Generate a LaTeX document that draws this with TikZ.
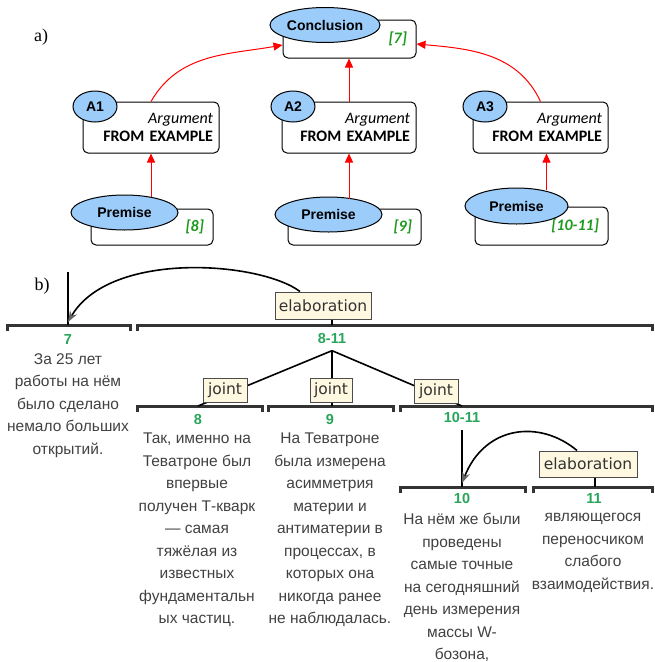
\documentclass[tikz,border=0pt]{standalone}
\usepackage{fontspec}
\setmainfont{Liberation Serif}
\newfontfamily\argfont{Carlito}
\newfontfamily\nodefont{Liberation Sans}
\newfontfamily\relfont{DejaVu Sans}
\usetikzlibrary{shapes,arrows.meta,calc,positioning}
\definecolor{claimblue}{RGB}{155,204,250}
\definecolor{refgreen}{RGB}{30,155,30}
\definecolor{spangreen}{RGB}{40,165,90}
\definecolor{relcream}{RGB}{255,248,225}
\definecolor{bodygray}{RGB}{65,65,65}
\tikzset{
  claim/.style={ellipse, draw=black, line width=1pt, fill=claimblue, inner sep=0pt,
                font=\nodefont\fontsize{14}{16}\selectfont\bfseries},
  argbox/.style={rectangle, rounded corners=5pt, draw=black, line width=1pt, fill=white,
                 inner xsep=6pt, align=right, font=\argfont\fontsize{16}{18.5}\selectfont},
  refbox/.style={argbox, inner xsep=9pt, text=refgreen,
                 font=\argfont\fontsize{16}{19}\selectfont\bfseries\itshape},
  support/.style={red, line width=1pt, -{Triangle[length=9pt,width=8pt]}},
  span/.style={line width=3pt, draw=black!80},
  rel/.style={line width=1.6pt, draw=black},
  relbox/.style={rectangle, draw=black!70, line width=1pt, fill=relcream, inner sep=2pt,
                 text=black!80, font=\relfont\fontsize{15.5}{18}\selectfont},
  spannum/.style={text=spangreen, font=\nodefont\fontsize{14.5}{16}\selectfont\bfseries},
  edu/.style={align=center, anchor=north, inner sep=0pt, text=bodygray,
              font=\nodefont\fontsize{15.5}{22.5}\selectfont},
  partlbl/.style={font=\fontsize{18}{20}\selectfont}
}

\begin{document}
\begin{tikzpicture}[x=1pt,y=1pt]
  \useasboundingbox (0,0) rectangle (655,-662);

  % a) argument diagram
  \node[partlbl] (parta) at (41,-37) {a)};

  % Conclusion on top.
  \node[refbox, minimum width=133pt, text width=115pt, minimum height=38pt] (concbox) at (349.5,-39) {[7]};
  \node[claim, minimum width=110pt, minimum height=35pt] (concl) at (325,-25) {Conclusion};

  % The three arguments.
  \node[argbox, minimum width=136pt, text width=124pt, minimum height=51pt] (a1box) at (151,-127.5)
    {\textit{Argument}\\\textbf{FROM EXAMPLE}};
  \node[claim, minimum width=44pt, minimum height=31pt] (a1) at (95,-106.5) {A1};
  \node[argbox, minimum width=134pt, text width=122pt, minimum height=51pt] (a2box) at (349,-127.5)
    {\textit{Argument}\\\textbf{FROM EXAMPLE}};
  \node[claim, minimum width=44pt, minimum height=31pt] (a2) at (293,-106.5) {A2};
  \node[argbox, minimum width=135pt, text width=123pt, minimum height=51pt] (a3box) at (540.5,-127.5)
    {\textit{Argument}\\\textbf{FROM EXAMPLE}};
  \node[claim, minimum width=44pt, minimum height=31pt] (a3) at (485,-106.5) {A3};

  % Premises.
  \node[refbox, minimum width=122pt, text width=104pt, minimum height=36pt] (p1box) at (152,-227) {[8]};
  \node[claim, minimum width=107pt, minimum height=35pt] (p1) at (124.5,-212.5) {Premise};
  \node[refbox, minimum width=133pt, text width=115pt, minimum height=36pt] (p2box) at (354.5,-227) {[9]};
  \node[claim, minimum width=107pt, minimum height=35pt] (p2) at (328.5,-214.5) {Premise};
  \node[refbox, minimum width=133pt, text width=115pt, minimum height=38pt] (p3box) at (541.5,-226) {[10-11]};
  \node[claim, minimum width=103pt, minimum height=36pt] (p3) at (516.5,-206) {Premise};

  % Support arrows.
  \draw[support] (a1box.north) to[out=60,in=190] ([yshift=-6pt]concbox.west);
  \draw[support] (a2box.north) -- (a2box.north |- concbox.south);
  \draw[support] (a3box.north) to[out=115,in=-5] ([yshift=-5pt]concbox.east);
  \coordinate (a3foot) at ([xshift=6pt]a3box.south);
  \draw[support, shorten <=-2pt] (a1box.south |- p1.north) -- (a1box.south);
  \draw[support, shorten <=-2pt] (a2box.south |- p2.north) -- (a2box.south);
  \draw[support, shorten <=-2pt] (a3foot |- p3.north) -- (a3foot);

  % b) discourse tree
  \node[partlbl] (partb) at (42,-286) {b)};

  % Span bars.
  \draw[span] (7,-331) |- (130,-325) -- (130,-331);
  \draw[span] (137,-331) |- (652,-325) -- (652,-331);
  \draw[span] (137,-412) |- (262,-406) -- (262,-412);
  \draw[span] (268,-412) |- (393,-406) -- (393,-412);
  \draw[span] (400,-412) |- (652,-406) -- (652,-412);
  \draw[span] (400,-493) |- (525,-487) -- (525,-493);
  \draw[span] (533,-493) |- (652,-487) -- (652,-493);

  \coordinate (s7) at (68,-325);
  \coordinate (s811) at (332,-325);
  \coordinate (s8) at (198,-406);
  \coordinate (s9) at (332,-406);
  \coordinate (s1011) at (462,-406);
  \coordinate (s10) at (462,-487);
  \coordinate (s11) at (595,-487);
  \coordinate (root7) at (68,-272);

  % Span numbers.
  \node[spannum] (n7) at (68,-340) {7};
  \node[spannum] (n811) at (332,-339) {8-11};
  \node[spannum] (n8) at (198,-420) {8};
  \node[spannum] (n9) at (330,-420) {9};
  \node[spannum] (n1011) at (462,-418) {10-11};
  \node[spannum] (n10) at (462,-499) {10};
  \node[spannum] (n11) at (594,-499) {11};

  % Elaboration 8-11 -> 7.
  \draw[rel] (root7) -- (s7);
  \node[relbox, minimum width=96pt, minimum height=27pt] (elab1) at (323,-305.5) {elaboration};
  \draw[rel] (elab1.south -| s811) -- (s811);
  \draw[rel, -{Stealth[length=11pt,width=8pt,color=black!60]}]
    ([xshift=-23pt]elab1.north) .. controls +(-40,30) and +(42,72) .. ([yshift=3pt]s7);

  % Joint over 8, 9, 10-11.
  \draw[rel] ([yshift=-3pt]n811.south) -- (s8);
  \draw[rel] ([yshift=-3pt]n811.south) -- (s9);
  \draw[rel] ([yshift=-3pt]n811.south) -- (s1011);
  \node[relbox, minimum width=44pt, minimum height=24pt] (joint1) at (225,-390) {joint};
  \node[relbox, minimum width=42pt, minimum height=24pt] (joint2) at (331,-390.5) {joint};
  \node[relbox, minimum width=44pt, minimum height=24pt] (joint3) at (436,-391) {joint};

  % Elaboration 11 -> 10.
  \draw[rel] ([yshift=-3pt]n1011.south) -- (s10);
  \node[relbox, minimum width=98pt, minimum height=26pt] (elab2) at (588,-464) {elaboration};
  \draw[rel] (elab2.south -| s11) -- (s11);
  \draw[rel, -{Stealth[length=11pt,width=8pt,color=black!60]}]
    ([xshift=-11pt]elab2.north) .. controls +(-37,31) and +(23,58) .. ([yshift=4pt]s10);

  % Text of the units.
  \node[edu] (t7) at (68,-353) {За 25 лет\\работы на нём\\было сделано\\немало больших\\открытий.};
  \node[edu] (t8) at (197,-433) {Так, именно на\\Теватроне был\\впервые\\получен Т-кварк\\— самая\\тяжёлая из\\известных\\фундаментальн\\ых частиц.};
  \node[edu] (t9) at (330,-433) {На Теватроне\\была измерена\\асимметрия\\материи и\\антиматерии в\\процессах, в\\которых она\\никогда ранее\\не наблюдалась.};
  \node[edu] (t10) at (462,-513) {На нём же были\\проведены\\самые точные\\на сегодняшний\\день измерения\\массы W-\\бозона,};
  \node[edu] (t11) at (593,-513) {являющегося\\переносчиком\\слабого\\взаимодействия.};
\end{tikzpicture}
\end{document}
